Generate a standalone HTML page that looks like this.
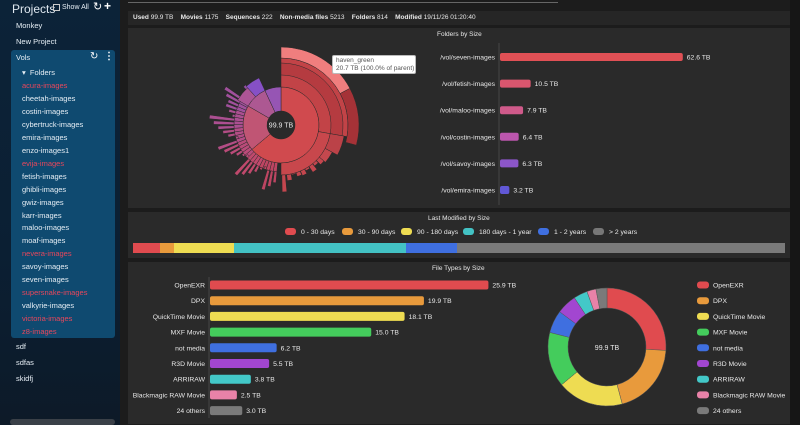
<!DOCTYPE html>
<html><head><meta charset="utf-8"><style>
*{margin:0;padding:0;box-sizing:border-box}
body{width:800px;height:425px;overflow:hidden;background:#1c1c1c;font-family:"Liberation Sans",sans-serif;color:#ddd;position:relative}
.a{position:absolute;white-space:nowrap}
#side{position:absolute;left:0;top:0;width:120px;height:425px;background:linear-gradient(180deg,#0c2338,#0b1f33 60%,#0d1a28)}
#vols{position:absolute;left:11px;top:50px;width:104px;height:288px;background:#0f4a70;border-radius:3px}
.s{font-size:7.5px;color:#e6eef5}
.r{color:#e8475c}
.p{position:absolute;background:#2a2a2a}
.t{font-size:7px;color:#e8e8e8}
</style></head><body>
<div id="side"></div>
<div id="vols"></div>
<div class="a" style="left:12px;top:2px;font-size:12px;color:#dfe8f0">Projects</div>
<div class="a" style="left:53px;top:4px;width:7px;height:7px;border:1px solid #ccc"></div>
<div class="a s" style="left:62px;top:4px;font-size:7px">Show All</div>
<div class="a" style="left:93px;top:0px;font-size:11px;color:#fff">↻</div>
<div class="a" style="left:104px;top:-1px;font-size:12px;color:#fff;font-weight:bold">+</div>
<div class="a s" style="left:16px;top:21px">Monkey</div>
<div class="a s" style="left:16px;top:37px">New Project</div>
<div class="a s" style="left:16px;top:53px">Vols</div>
<div class="a" style="left:90px;top:51px;font-size:10px;color:#fff">↻</div>
<div class="a" style="left:104px;top:51px;font-size:10px;color:#fff;font-weight:bold">⋮</div>
<div class="a s" style="left:22px;top:68px">▾&nbsp;&nbsp;Folders</div>
<div id="fl"></div>
<div class="a s" style="left:16px;top:342px">sdf</div>
<div class="a s" style="left:16px;top:358px">sdfas</div>
<div class="a s" style="left:16px;top:374px">skidfj</div>
<div class="a" style="left:10px;top:419px;width:105px;height:6px;background:#3a4048;border-radius:3px"></div>

<div class="a" style="left:128px;top:2px;width:430px;height:1px;background:#666"></div>
<div class="p" style="left:128px;top:11px;width:662px;height:14px;background:#262626"></div>
<div class="a t" style="left:133px;top:14px;font-size:6.5px"><b>Used</b> 99.9 TB&nbsp;&nbsp;&nbsp;&nbsp;<b>Movies</b> 1175&nbsp;&nbsp;&nbsp;&nbsp;<b>Sequences</b> 222&nbsp;&nbsp;&nbsp;&nbsp;<b>Non-media files</b> 5213&nbsp;&nbsp;&nbsp;&nbsp;<b>Folders</b> 814&nbsp;&nbsp;&nbsp;&nbsp;<b>Modified</b> 19/11/26 01:20:40</div>
<div class="p" style="left:128px;top:28px;width:662px;height:180px"></div>
<div class="p" style="left:128px;top:212px;width:662px;height:46px"></div>
<div class="p" style="left:128px;top:262px;width:662px;height:162px"></div>
<div class="a" style="left:790px;top:0;width:10px;height:425px;background:#161616"></div>
<div class="a t" style="left:437px;top:31px;font-size:6.5px">Folders by Size</div>
<div class="a t" style="left:428px;top:215px;font-size:6.5px">Last Modified by Size</div>
<div class="a t" style="left:432px;top:265px;font-size:6.5px">File Types by Size</div>
<svg class="a" style="left:0;top:0" width="800" height="425" id="g"></svg>
<div class="a" style="left:332px;top:55px;width:84px;height:19px;background:#fff;border:1px solid #bbb;border-radius:2px;font-size:6.5px;color:#555;padding:1px 3px;line-height:8px">haven_green<br>20.7 TB (100.0% of parent)</div>
<script>
var F=[["acura-images",1],["cheetah-images"],["costin-images"],["cybertruck-images"],["emira-images"],["enzo-images1"],["evija-images",1],["fetish-images"],["ghibli-images"],["gwiz-images"],["karr-images"],["maloo-images"],["moaf-images"],["nevera-images",1],["savoy-images"],["seven-images"],["supersnake-images",1],["valkyrie-images"],["victoria-images",1],["z8-images",1]];
var h="";F.forEach(function(f,i){h+='<div class="a s'+(f[1]?' r':'')+'" style="left:22px;top:'+(81+i*12.95)+'px">'+f[0]+'</div>'});
document.getElementById("fl").innerHTML=h;
var s="";
function arc(cx,cy,r0,r1,a0,a1,c,st){var R=Math.PI/180;function P(r,a){return [cx+r*Math.sin(a*R),cy-r*Math.cos(a*R)]}
var l=(a1-a0)>180?1:0,p=P(r1,a0),q=P(r1,a1),u=P(r0,a1),v=P(r0,a0);
s+='<path d="M'+p+' A'+r1+','+r1+' 0 '+l+' 1 '+q+' L'+u+' A'+r0+','+r0+' 0 '+l+' 0 '+v+'Z" fill="'+c+'" stroke="'+(st||'#2a2a2a')+'" stroke-width="0.5"/>';}
function T(x,y,t,a,sz,c){s+='<text x="'+x+'" y="'+y+'" font-size="'+(sz||7)+'" fill="'+(c||'#e8e8e8')+'" text-anchor="'+(a||'start')+'" font-family="Liberation Sans">'+t+'</text>'}
var cx=281,cy=125;
arc(cx,cy,14,38,0,230,"#d04a4e");arc(cx,cy,14,38,230,300,"#c05574");arc(cx,cy,14,38,300,335,"#ad5892");arc(cx,cy,14,38,335,360,"#9655b4");
arc(cx,cy,38,67,0,100,"#c24347");arc(cx,cy,38,50,100,180,"#c8474c");
arc(cx,cy,50,62,0,100,"#b53b40");
arc(cx,cy,67,78,0,62,"#f07e7e");arc(cx,cy,67,78,62,105,"#a53237");arc(cx,cy,50,64,100,118,"#bb4248");arc(cx,cy,50,58,118,130,"#c4484e");
var sp=[56,53,57,52,55,54,51,56];
for(var i=0;i<8;i++){var a=130+i*5.5;arc(cx,cy,50,sp[i],a,a+5,"#c4464e")}
arc(cx,cy,50,67,175,179,"#c4464e");
var cols=["#bd4562","#bf496c","#ba4b79","#b44d86","#ab4f91","#a1509c","#964fa6"];
for(var a=185;a<318;a+=4.5){var k=Math.min(6,Math.floor((a-185)/20));var L=44+((a*37)%27);if(a>255&&a<290)L+=5;arc(cx,cy,38,47,a,a+4.5,cols[k]);arc(cx,cy,47,L,a,a+3,cols[k])}
arc(cx,cy,38,52,318,335,"#8650c6");arc(cx,cy,38,50,300,318,"#ad5596");
s+='<circle cx="'+cx+'" cy="'+cy+'" r="14" fill="#2a2a2a"/>';T(cx,cy+2.5,"99.9 TB","middle",7);
s+='<line x1="499" y1="43" x2="499" y2="205" stroke="#555" stroke-width="0.7"/>';
var FB=[["seven",62.6,"#e05055"],["fetish",10.5,"#d9566e"],["maloo",7.9,"#cf5a8a"],["costin",6.4,"#bb56ad"],["savoy",6.3,"#8c56c9"],["emira",3.2,"#6158d6"]];
FB.forEach(function(b,i){var y=57+i*26.6,w=b[1]*2.92;s+='<rect x="500" y="'+(y-4)+'" width="'+w+'" height="8" rx="2" fill="'+b[2]+'"/>';T(495,y+2.5,"/vol/"+b[0]+"-images","end",6.8);T(504+w,y+2.5,b[1].toFixed(1)+" TB","start",6.8)});
var LM=[[285,"#e04b4f","0 - 30 days"],[342,"#e89a3c","30 - 90 days"],[401,"#eedc52","90 - 180 days"],[463,"#43c2c4","180 days - 1 year"],[538,"#3f6fe0","1 - 2 years"],[593,"#777","> 2 years"]];
LM.forEach(function(l){s+='<rect x="'+l[0]+'" y="228" width="11" height="7" rx="3" fill="'+l[1]+'"/>';T(l[0]+16,234,l[2],"start",6.8)});
var SG=[[133,160,"#e04b4f"],[160,174,"#e89a3c"],[174,234,"#eedc52"],[234,406,"#43c2c4"],[406,457,"#3f6fe0"],[457,785,"#7a7a7a"]];
SG.forEach(function(g){s+='<rect x="'+g[0]+'" y="243" width="'+(g[1]-g[0])+'" height="10" fill="'+g[2]+'"/>'});
var FT=[["OpenEXR",25.9,"#e04b4f"],["DPX",19.9,"#e89a3c"],["QuickTime Movie",18.1,"#eedc52"],["MXF Movie",15.0,"#44cc5c"],["not media",6.2,"#3f6fe0"],["R3D Movie",5.5,"#a246d0"],["ARRIRAW",3.8,"#43c8c8"],["Blackmagic RAW Movie",2.5,"#e882a8"],["24 others",3.0,"#7a7a7a"]];
s+='<line x1="209" y1="277" x2="209" y2="418" stroke="#555" stroke-width="0.7"/>';
FT.forEach(function(b,i){var y=285+i*15.7,w=b[1]*10.75;s+='<rect x="210" y="'+(y-4.5)+'" width="'+w+'" height="9" rx="2" fill="'+b[2]+'"/>';T(205,y+2.5,b[0],"end",6.8);T(214+w,y+2.5,b[1].toFixed(1)+" TB","start",6.8);
 s+='<rect x="697" y="'+(y-3.5)+'" width="12" height="7" rx="3" fill="'+b[2]+'"/>';T(713,y+2.5,b[0],"start",6.8)});
var a0=0;FT.forEach(function(b){var a1=a0+b[1]/99.9*360;arc(607,347,39,59,a0,a1,b[2],"#555");a0=a1});
T(607,350,"99.9 TB","middle",7);
document.getElementById("g").innerHTML=s;
</script>
</body></html>
